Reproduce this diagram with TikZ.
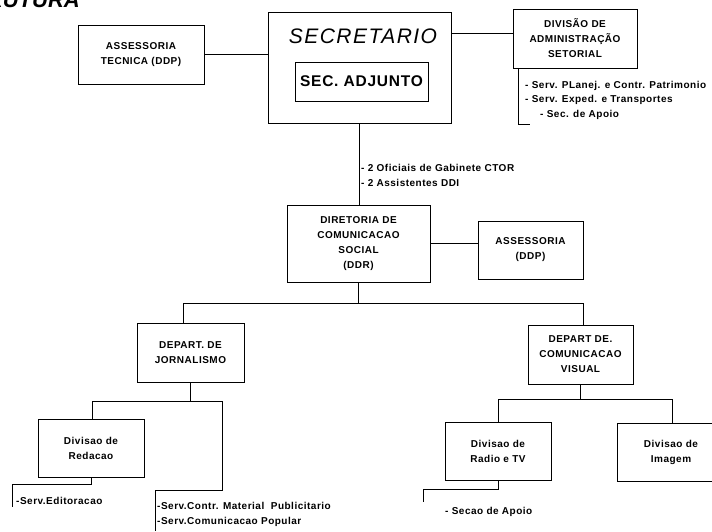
\documentclass[tikz,border=0pt]{standalone}
\usepackage{fontspec}
\setmainfont{Liberation Sans}
\newfontfamily\orgfont[LetterSpace=5]{Liberation Sans}
\newfontfamily\headfont[LetterSpace=7]{Liberation Sans}
\usetikzlibrary{positioning}
\tikzset{
    unit/.style={draw, line width=0.9pt, align=center, inner sep=0pt,
                 font={\orgfont\bfseries\fontsize{10}{15}\selectfont}},
    link/.style={draw, line width=0.9pt},
    list/.style={align=left, anchor=west, inner sep=0pt,
                 font={\orgfont\bfseries\fontsize{10}{14.5}\selectfont}}
}

\begin{document}
\begin{tikzpicture}[x=1pt, y=-1pt]
    \useasboundingbox (0,0) rectangle (712,531);
    % Title
    \node[anchor=base east, inner sep=0pt, font={\bfseries\itshape\fontsize{22}{22}\selectfont}] (title) at (80,7) {ESTRUTURA};

    % Nodes
    \node[unit, minimum width=183pt, minimum height=111pt] (secr) at (359.5,67.5) {};
    \node[inner sep=0pt, font={\headfont\itshape\fontsize{21}{21}\selectfont}] (secrText) at (363,36) {SECRETARIO};
    \node[unit, minimum width=133pt, minimum height=39pt, font={\orgfont\bfseries\fontsize{15.5}{16}\selectfont}] (adj) at (361.5,81.5) {SEC. ADJUNTO};
    \node[unit, minimum width=126pt, minimum height=59pt] (assTec) at (141,54.5) {ASSESSORIA\\TECNICA (DDP)};
    \node[unit, minimum width=124pt, minimum height=59pt] (divAdm) at (575,38.5) {DIVISÃO DE\\ADMINISTRAÇÃO\\SETORIAL};
    \node[unit, minimum width=143pt, minimum height=77pt] (dir) at (358.5,243.5) {DIRETORIA DE\\COMUNICACAO\\SOCIAL\\(DDR)};
    \node[unit, minimum width=105pt, minimum height=58pt] (assDir) at (530.5,250) {ASSESSORIA\\(DDP)};
    \node[unit, minimum width=107pt, minimum height=59pt] (depJor) at (190.5,352.5) {DEPART. DE\\JORNALISMO};
    \node[unit, minimum width=105pt, minimum height=59pt] (depVis) at (580.5,354.5) {DEPART DE.\\COMUNICACAO\\VISUAL};
    \node[unit, minimum width=106pt, minimum height=58pt] (divRed) at (91,448) {Divisao de\\Redacao};
    \node[unit, minimum width=106pt, minimum height=58pt] (divRad) at (498,451) {Divisao de\\Radio e TV};
    \node[unit, minimum width=108pt, minimum height=58pt] (divImg) at (671,452) {Divisao de\\Imagem};

    % lists
    \node[list] (admList) at (525,100) {- Serv. PLanej. e Contr. Patrimonio\\- Serv. Exped. e Transportes\\\hspace{15pt}- Sec. de Apoio};
    \node[list] (staff) at (361,175.5) {- 2 Oficiais de Gabinete CTOR\\- 2 Assistentes DDI};
    \node[list] (edtList) at (16,501) {-Serv.Editoracao};
    \node[list] (pubList) at (157,514.5) {-Serv.Contr. Material\ \ Publicitario\\-Serv.Comunicacao Popular};
    \node[list] (radList) at (445,512) {- Secao de Apoio};

    % bus points
    \coordinate (admEnd) at (530,124);
    \coordinate (busL) at (183,303);
    \coordinate (busR) at (583,303);
    \coordinate (jorL) at (92,401);
    \coordinate (jorR) at (222,401);
    \coordinate (pubTop) at (155,490);
    \coordinate (pubEnd) at (155,531);
    \coordinate (edtTop) at (12,484);
    \coordinate (edtEnd) at (12,507);
    \coordinate (visR) at (672,399);
    \coordinate (radTop) at (423,489);
    \coordinate (radEnd) at (423,502);

    % edges
    \draw[link] (assTec.east) -- (assTec.east -| secr.west);
    \draw[link] ([yshift=5.5pt]divAdm.west) -- ([yshift=5.5pt]divAdm.west -| secr.east);
    \draw[link] ([xshift=6pt]divAdm.south west) |- (admEnd);
    \draw[link] (secr.south) -- (secr.south |- dir.north);
    \draw[link] (dir.east) -- (dir.east -| assDir.west);
    \draw[link] (dir.south) -- (dir.south |- busL);
    \draw[link] (busL |- depJor.north) -- (busL) -- (busR) -- (busR |- depVis.north);
    \draw[link] (depJor.south) -- (depJor.south |- jorL);
    \draw[link] (jorL |- divRed.north) -- (jorL) -- (jorR) |- (pubTop) -- (pubEnd);
    \draw[link] (divRed.south) |- (edtTop) -- (edtEnd);
    \draw[link] (depVis.south) -- (depVis.south |- visR);
    \draw[link] (divRad.north) |- (visR) -- (visR |- divImg.north);
    \draw[link] (divRad.south) |- (radTop) -- (radEnd);
\end{tikzpicture}
\end{document}
